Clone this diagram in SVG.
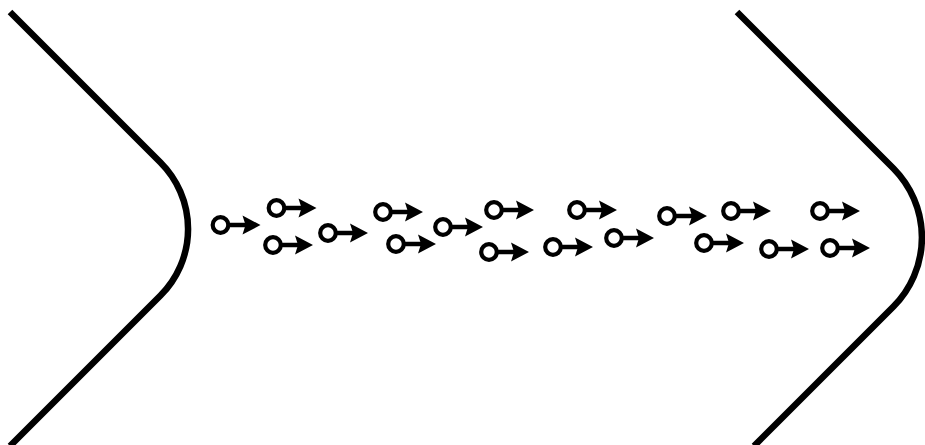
<svg xmlns="http://www.w3.org/2000/svg" xmlns:xlink="http://www.w3.org/1999/xlink" width="925" height="445" viewBox="0 0 925 445">
<style>
.chev{fill:none;stroke:#000;stroke-width:6.5;stroke-linejoin:round}
.ring{fill:#fff;stroke:#000;stroke-width:4.2}
.shaft{stroke:#000;stroke-width:4.5}
.head{fill:#000}
</style>
<defs>
<g id="arrow">
<line class="shaft" x1="8" y1="0" x2="28" y2="0"/>
<polygon class="head" points="22,-9.5 40,0 22,9.5 25,0"/>
<circle class="ring" cx="0" cy="0" r="7.8"/>
</g>
</defs>
<rect width="925" height="445" fill="#fff"/>
<g id="left-chevron">
<path class="chev" d="M10,12 L160.5,162.5 A94,94 0 0 1 160.5,295.5 L10,446"/>
</g>
<g id="right-chevron">
<path class="chev" d="M737,12 L893.5,168.5 A98,98 0 0 1 893.5,306.5 L754,446"/>
</g>
<g id="particles">
<use id="p1" xlink:href="#arrow" href="#arrow" x="220.5" y="225"/>
<use id="p2" xlink:href="#arrow" href="#arrow" x="276.5" y="208"/>
<use id="p3" xlink:href="#arrow" href="#arrow" x="273" y="245"/>
<use id="p4" xlink:href="#arrow" href="#arrow" x="328" y="233"/>
<use id="p5" xlink:href="#arrow" href="#arrow" x="383" y="212"/>
<use id="p6" xlink:href="#arrow" href="#arrow" x="396" y="244"/>
<use id="p7" xlink:href="#arrow" href="#arrow" x="443" y="227"/>
<use id="p8" xlink:href="#arrow" href="#arrow" x="494" y="210"/>
<use id="p9" xlink:href="#arrow" href="#arrow" x="489" y="252"/>
<use id="p10" xlink:href="#arrow" href="#arrow" x="553" y="247"/>
<use id="p11" xlink:href="#arrow" href="#arrow" x="577" y="210"/>
<use id="p12" xlink:href="#arrow" href="#arrow" x="614" y="238"/>
<use id="p13" xlink:href="#arrow" href="#arrow" x="667" y="216"/>
<use id="p14" xlink:href="#arrow" href="#arrow" x="731" y="211"/>
<use id="p15" xlink:href="#arrow" href="#arrow" x="820" y="211"/>
<use id="p16" xlink:href="#arrow" href="#arrow" x="704" y="243"/>
<use id="p17" xlink:href="#arrow" href="#arrow" x="769" y="249"/>
<use id="p18" xlink:href="#arrow" href="#arrow" x="830" y="248"/>
</g>
</svg>
